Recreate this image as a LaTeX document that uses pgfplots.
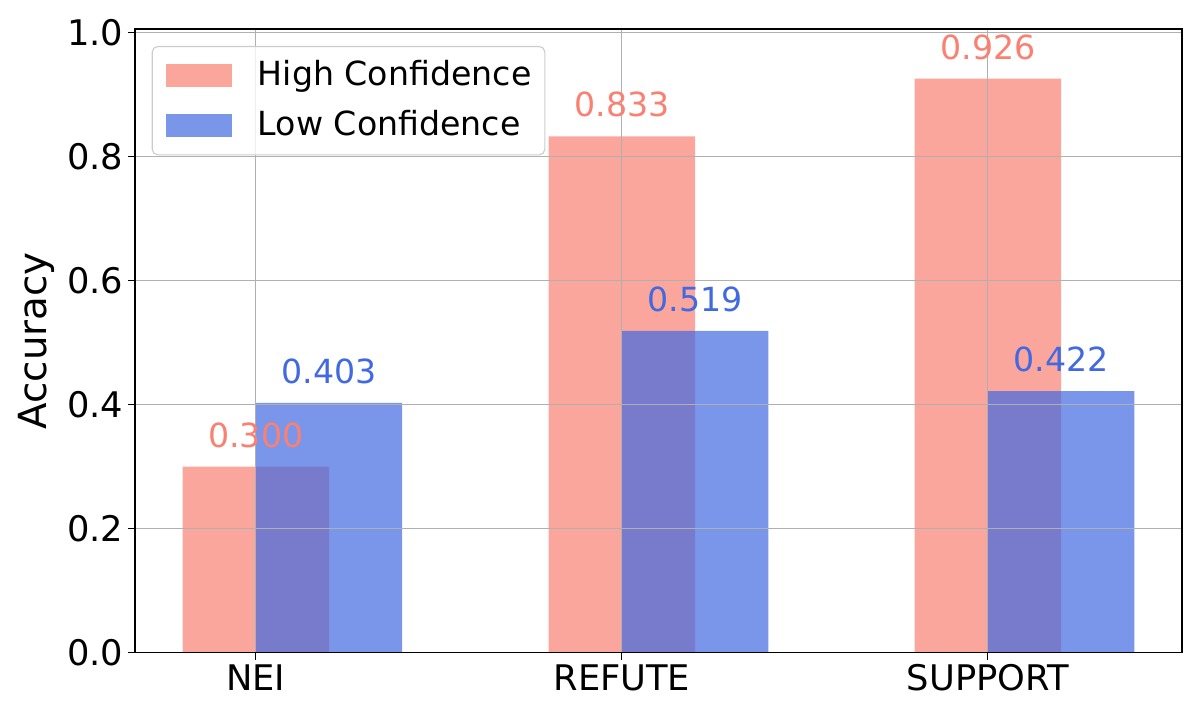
\documentclass[border=0pt]{standalone}
\usepackage{fontspec}
\setmainfont{DejaVu Sans}
\usepackage{pgfplots}
\pgfplotsset{compat=1.18}

\definecolor{salmon}{HTML}{FA8072}
\definecolor{royalblue}{HTML}{4169E1}
\definecolor{gridgray}{HTML}{B0B0B0}
\definecolor{legedge}{HTML}{CCCCCC}

\begin{document}
\begin{tikzpicture}
\begin{axis}[
    name=ax,
    scale only axis,
    width=753.8bp, height=449bp,
    xmin=-0.33, xmax=2.53,
    ymin=0, ymax=1.006,
    xtick={0,1,2},
    xticklabels={NEI,REFUTE,SUPPORT},
    ytick={0,0.2,0.4,0.6,0.8,1.0},
    /pgf/number format/assume math mode=true,
    yticklabel style={/pgf/number format/.cd, fixed, fixed zerofill, precision=1},
    ticklabel style={font=\fontsize{25.5}{30}\selectfont},
    xtick pos=lower, ytick pos=left,
    tick align=outside,
    major tick length=5bp,
    every tick/.style={black, line width=0.8bp},
    axis line style={line width=0.8bp},
    grid=major,
    major grid style={gridgray, line width=0.8bp},
    axis on top,
    ylabel={Accuracy},
    ylabel style={font=\fontsize{28}{33}\selectfont, at={(axis description cs:-0.0841,0.5)}, anchor=base, inner sep=0pt},
    ybar, bar width=0.4,
    nodes near coords={\pgfmathprintnumber[fixed,fixed zerofill,precision=3]{\pgfplotspointmeta}},
    every node near coord/.style={anchor=base, inner sep=0pt, yshift=14.1bp, font=\fontsize{24}{28.8}\selectfont},
    legend cell align=left,
    legend image code/.code={\fill[#1, sharp corners] (0bp,-8.4bp) rectangle (48bp,8.4bp);},
    legend style={at={(axis description cs:0,1)}, anchor=north west, xshift=12bp, yshift=-12.2bp,
        draw=legedge, line width=0.8bp, rounded corners=4bp, fill=white, fill opacity=0.8, text opacity=1,
        font=\fontsize{24}{28.8}\selectfont, inner xsep=9.6bp, inner ysep=9.5bp,
        nodes={inner sep=0pt, text height=18.6bp, text depth=4.4bp},
        row sep=13bp, column sep=18.5bp},
]
\addplot[draw=none, fill=salmon, fill opacity=0.7, bar shift=0,
    every node near coord/.append style={text=salmon, text opacity=1}]
    coordinates {(0,0.300) (1,0.833) (2,0.926)};
\addlegendentry{High Confidence}
\addplot[draw=none, fill=royalblue, fill opacity=0.7, bar shift=0.2,
    every node near coord/.append style={text=royalblue, text opacity=1, xshift=52.7bp}]
    coordinates {(0,0.403) (1,0.519) (2,0.422)};
\addlegendentry{Low Confidence}
\end{axis}
\pgfresetboundingbox
\path[use as bounding box] ([shift={(-97.2bp,-48.5bp)}]ax.south west) rectangle ([shift={(13bp,20.9bp)}]ax.north east);
\end{tikzpicture}
\end{document}
